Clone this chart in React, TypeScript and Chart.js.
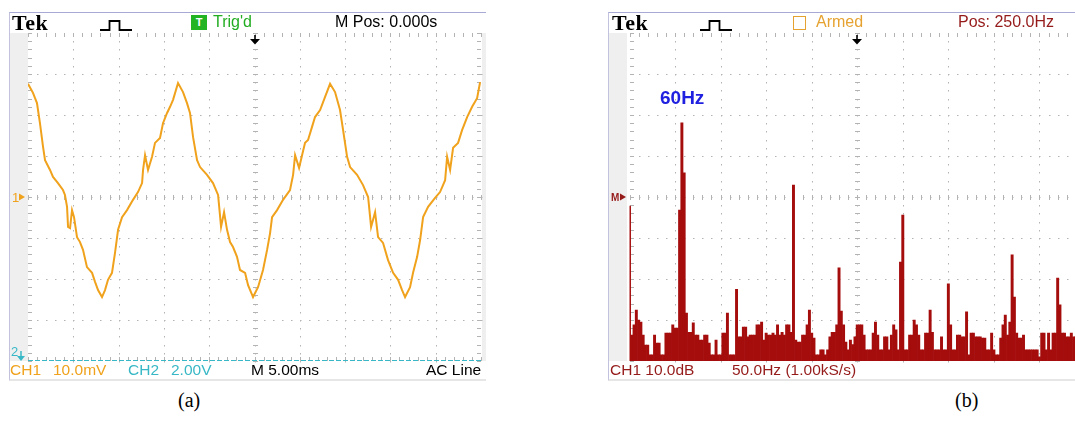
import React, { useEffect, useRef } from "react";
import { Chart, registerables } from "chart.js";

Chart.register(...registerables);

// ---------- Panel (a): CH1 time-domain trace (ms, mV) ----------
const waveTimeMs = [
  0.0, 0.55, 0.99, 1.32, 1.66, 1.88, 2.43, 2.76, 3.31, 3.86, 4.08, 4.31, 4.42, 4.64, 4.86, 5.08, 5.41, 5.74, 6.07,
  6.51, 7.07, 7.4, 7.73, 8.17, 8.5, 8.83, 9.27, 9.6, 9.94, 10.38, 10.93, 11.59, 12.14, 12.59, 12.7, 12.92, 13.25,
  13.69, 14.02, 14.57, 14.9, 15.35, 15.68, 16.01, 16.56, 17.11, 17.55, 17.88, 18.22, 18.66, 18.99, 19.76, 20.42,
  20.98, 21.31, 21.64, 21.97, 22.3, 22.63, 23.07, 23.4, 23.96, 24.29, 24.84, 25.39, 25.94, 26.39, 26.72, 26.94,
  27.49, 28.15, 28.92, 29.26, 29.48, 29.92, 30.25, 30.58, 30.91, 31.35, 31.68, 32.24, 32.79, 33.34, 33.89, 34.44,
  34.78, 35.22, 35.55, 36.32, 36.98, 37.54, 37.87, 38.31, 38.64, 39.19, 39.74, 40.3, 40.85, 41.29, 41.62, 42.17,
  42.5, 42.95, 43.28, 43.61, 44.16, 44.93, 45.48, 46.04, 46.26, 46.59, 46.92, 47.47, 47.91, 48.47, 49.02, 49.57,
  49.9,
];
const waveMv = [
  27.6, 25.4, 22.9, 18.0, 12.2, 9.0, 6.6, 4.9, 3.4, 1.7, 0.5, -2.4, -7.3, -7.6, -3.2, -4.9, -9.8, -11.0, -12.9,
  -17.1, -18.5, -20.7, -22.7, -24.4, -22.7, -20.2, -18.5, -13.7, -8.0, -4.9, -3.2, -0.7, 1.2, 3.4, 6.6, 10.2, 6.6,
  9.8, 13.2, 14.4, 18.0, 20.5, 22.0, 23.7, 27.8, 25.6, 22.9, 20.5, 14.6, 9.0, 7.3, 5.4, 3.4, 0.5, -7.3, -3.7, -8.0,
  -11.0, -12.2, -14.6, -17.8, -18.5, -21.5, -24.4, -22.0, -17.8, -12.9, -8.8, -4.9, -3.2, -0.7, 1.7, 5.4, 10.2,
  7.1, 10.2, 13.2, 13.9, 17.1, 19.5, 21.2, 24.4, 27.6, 25.6, 21.2, 16.3, 9.8, 7.3, 5.4, 2.9, 0.0, -7.3, -3.7, -9.8,
  -11.2, -15.4, -18.5, -20.2, -22.7, -24.4, -22.0, -18.5, -14.6, -10.5, -4.9, -2.4, -0.2, 1.2, 4.1, 9.8, 6.6, 12.0,
  13.2, 16.3, 19.5, 22.0, 24.1, 28.0,
];
// CH2 trace sits on the bottom graticule line
const ch2TimeMs = [0, 50];
const ch2Mv = [-40, -40];

// ---------- Panel (b): FFT magnitude (dB), one value per 2.5 Hz bin ----------
const SPECTRUM_BIN_HZ = 2.5;
const spectrumDb = [
  -2.2, -33.7, -31.2, -27.6, -30, -30.5, -33.7, -36.1, -36.1, -38.5,
  -38.5, -33.7, -35.6, -35.6, -38.5, -38.5, -33.2, -33.2, -33.2, -31.2,
  -32, -32, -3.2, 18.1, 5.9, -28.3, -33, -33, -30.7, -33.7,
  -33.7, -34.9, -34.9, -33.7, -33.7, -35.6, -38.5, -38.5, -34.9, -38.5,
  -38.5, -33.2, -33.2, -28.3, -38.5, -38.5, -38.5, -22.5, -34.1, -34.1,
  -31.7, -31.7, -34.1, -33.7, -33.7, -33.7, -31.2, -31.2, -30.5, -34.9,
  -33.2, -33.7, -33.7, -33.2, -33.7, -31.2, -33.7, -33, -33.7, -31.2,
  -31.2, -33, 2.9, -34.9, -35.4, -35.4, -33.7, -33.7, -31.2, -27.6,
  -33.2, -34.4, -38.5, -38.5, -37.3, -37.3, -38.5, -37.3, -34.1, -33,
  -33, -31.2, -17.3, -27.8, -31.2, -35.4, -37.3, -34.9, -36, -34.1,
  -31.2, -31.2, -31.2, -33.7, -37.3, -37.3, -37.3, -33.2, -30.5, -33.7,
  -37.3, -37.3, -34.1, -34.1, -37.3, -33.7, -31.2, -32.4, -37.3, -15.9,
  -4.4, -37.3, -37.3, -33.7, -33.7, -30, -31.2, -33.7, -37.3, -37.3,
  -33.2, -33.2, -27.6, -33, -37.3, -37.3, -37.3, -34.1, -37.3, -37.3,
  -21.2, -31.2, -37.3, -37.3, -33.7, -33.7, -34.1, -34.1, -28, -38.5,
  -33.2, -33.2, -34.1, -34.1, -34.1, -34.4, -34.4, -37.3, -37.3, -33.2,
  -37.3, -38.5, -38.5, -34.4, -31.2, -28.8, -33.7, -30.5, -14.1, -24.4,
  -33.2, -34.4, -34.4, -33.7, -37.3, -37.3, -37.3, -37.3, -37.3, -37.3,
  -39, -33.2, -33.2, -37.3, -33.2, -37.3, -33.2, -33.2, -19.8, -26.3,
  -33.2, -33.2, -34.1, -34.1, -33.2, -34.1, -34.1, -34, -34, -34,
];

// axis ranges (10 x 8 divisions)
const timeRangeMs = [0, 50];
const voltRangeMv = [-40, 40];
const freqRangeHz = [0, 500];
const dbRange = [-40, 40];

const CH1_ORANGE = "#f0a21c";
const CH2_TEAL = "#38b8c6";
const FFT_RED = "#a50d0d";
const DARK_RED = "#951a1a";

const graticulePlugin = {
  id: "graticule",
  beforeDatasetsDraw(chart: any) {
    const { ctx, chartArea } = chart;
    const xs = chart.scales.x;
    const ys = chart.scales.y;
    const nx = 10, ny = 8, sub = 5;
    const X = (k: number) => Math.round(xs.getPixelForValue(xs.min + ((xs.max - xs.min) * k) / (nx * sub)));
    const Y = (k: number) => Math.round(ys.getPixelForValue(ys.min + ((ys.max - ys.min) * k) / (ny * sub)));
    const l = Math.round(chartArea.left), r = Math.round(chartArea.right);
    const t = Math.round(chartArea.top), b = Math.round(chartArea.bottom);
    ctx.save();
    ctx.fillStyle = "#b3b3b3";
    for (let j = 1; j < ny; j++) {
      const y = Y(j * sub);
      for (let k = 0; k <= nx * sub; k++) ctx.fillRect(X(k), y, 1.5, 1);
    }
    for (let i = 1; i < nx; i++) {
      const x = X(i * sub);
      for (let k = 0; k <= ny * sub; k++) ctx.fillRect(x, Y(k), 1, 1.5);
    }
    const cy = Y((ny * sub) / 2), cx = X((nx * sub) / 2);
    for (let k = 0; k <= nx * sub; k++) ctx.fillRect(X(k), cy - 2, 1, 5);
    for (let k = 0; k <= ny * sub; k++) ctx.fillRect(cx - 2, Y(k), 5, 1);
    for (let k = 0; k <= ny * sub; k++) {
      ctx.fillRect(l, Y(k), 4, 1);
      ctx.fillRect(r - 4, Y(k), 4, 1);
    }
    for (let k = 0; k <= nx * sub; k++) {
      ctx.fillRect(X(k), t, 1, 4);
      ctx.fillRect(X(k), b - 4, 1, 4);
    }
    ctx.restore();
  },
};

function Txt(props: any) {
  const { x, base, size, color = "#000", bold, serif, children, spacing } = props;
  const asc = serif ? 0.8375 : 0.8465;
  return (
    <div
      style={{
        position: "absolute",
        left: x,
        top: base - asc * size,
        fontSize: size,
        lineHeight: `${size}px`,
        color,
        fontWeight: bold ? 700 : 400,
        fontFamily: serif ? '"Liberation Serif", "Times New Roman", serif' : '"Liberation Sans", Arial, sans-serif',
        whiteSpace: "pre",
        letterSpacing: spacing,
      }}
    >
      {children}
    </div>
  );
}

function Pulse({ x, y }: { x: number; y: number }) {
  return (
    <svg style={{ position: "absolute", left: x, top: y }} width={36} height={16}>
      <path d="M2 12 H11.5 V3 H21.5 V12 H34" fill="none" stroke="#000" strokeWidth={1.8} />
    </svg>
  );
}

function DownArrow({ x, y }: { x: number; y: number }) {
  return (
    <svg style={{ position: "absolute", left: x, top: y }} width={12} height={11}>
      <line x1={6} y1={0} x2={6} y2={5} stroke="#000" strokeWidth={1.6} />
      <polygon points="1,4 11,4 6,9.5" fill="#000" />
    </svg>
  );
}

function RightTri({ x, y, color }: { x: number; y: number; color: string }) {
  return (
    <svg style={{ position: "absolute", left: x, top: y }} width={7} height={8}>
      <polygon points="0,0.5 6,4 0,7.5" fill={color} />
    </svg>
  );
}

function Frame({ left, width }: { left: number; width: number }) {
  return (
    <>
      <div
        style={{
          position: "absolute",
          left,
          top: 12,
          width,
          height: 369,
          background: "#fff",
          borderTop: "1px solid #a9a9d6",
          borderLeft: "1px solid #c2c2de",
          borderBottom: "2px solid #e6e6e6",
          boxSizing: "border-box",
        }}
      />
      <div style={{ position: "absolute", left: left + 1, top: 33, width: 18, height: 328, background: "#efefef" }} />
    </>
  );
}

function ScopeChart({ left, width, make }: { left: number; width: number; make: (c: HTMLCanvasElement) => Chart }) {
  const ref = useRef<HTMLCanvasElement | null>(null);
  useEffect(() => {
    if (!ref.current) return;
    const chart = make(ref.current);
    return () => chart.destroy();
  }, []);
  return (
    <canvas
      ref={ref}
      width={width}
      height={369}
      style={{ position: "absolute", left, top: 12, width, height: 369 }}
    />
  );
}

const baseOptions = (padLeft: number) => ({
  animation: false as const,
  responsive: false,
  maintainAspectRatio: false,
  events: [] as any[],
  layout: { padding: { left: padLeft, top: 21, right: 5, bottom: 20 } },
  plugins: { legend: { display: false }, tooltip: { enabled: false } },
});

function makeTimeChart(canvas: HTMLCanvasElement) {
  return new Chart(canvas, {
    type: "line",
    data: {
      datasets: [
        {
          data: ch2TimeMs.map((t, i) => ({ x: t, y: ch2Mv[i] })),
          borderColor: CH2_TEAL,
          borderWidth: 2,
          borderDash: [5, 2],
          pointRadius: 0,
        },
        {
          data: waveTimeMs.map((t, i) => ({ x: t, y: waveMv[i] })),
          borderColor: CH1_ORANGE,
          borderWidth: 2,
          pointRadius: 0,
          tension: 0,
        },
      ],
    },
    options: {
      ...baseOptions(19),
      scales: {
        x: { type: "linear", min: timeRangeMs[0], max: timeRangeMs[1], display: false },
        y: { type: "linear", min: voltRangeMv[0], max: voltRangeMv[1], display: false },
      },
    } as any,
    plugins: [graticulePlugin],
  });
}

function makeFftChart(canvas: HTMLCanvasElement) {
  return new Chart(canvas, {
    type: "bar",
    data: {
      datasets: [
        {
          data: spectrumDb.map((v, i) => ({ x: i * SPECTRUM_BIN_HZ, y: v })),
          backgroundColor: FFT_RED,
          borderWidth: 0,
          base: dbRange[0],
          barPercentage: 1,
          categoryPercentage: 1,
        } as any,
      ],
    },
    options: {
      ...baseOptions(21.5),
      scales: {
        x: { type: "linear", min: freqRangeHz[0], max: freqRangeHz[1], offset: false, display: false },
        y: { type: "linear", min: dbRange[0], max: dbRange[1], display: false },
      },
    } as any,
    plugins: [graticulePlugin],
  });
}

export default function App() {
  const foot = 375.5;
  const fs = 15.5;
  return (
    <div
      style={{
        position: "absolute",
        left: 0,
        top: 0,
        width: 1075,
        height: 438,
        overflow: "hidden",
        background: "#fff",
      }}
    >
      {/* ---------- Panel (a) ---------- */}
      <Frame left={9} width={477} />
      <div style={{ position: "absolute", left: 482, top: 33, width: 4, height: 328, background: "#efefef" }} />
      <ScopeChart left={9} width={477} make={makeTimeChart} />
      <Txt x={12} base={30} size={22} serif bold spacing={0.5}>Tek</Txt>
      <Pulse x={98} y={18} />
      <div
        style={{
          position: "absolute",
          left: 191,
          top: 15,
          width: 16,
          height: 15,
          background: "#22b422",
          color: "#fff",
          fontFamily: '"Liberation Sans", Arial, sans-serif',
          fontWeight: 700,
          fontSize: 11,
          lineHeight: "15px",
          textAlign: "center",
        }}
      >
        T
      </div>
      <Txt x={213} base={27.5} size={16} color="#22ad22">Trig'd</Txt>
      <Txt x={335} base={27.5} size={16}>M Pos: 0.000s</Txt>
      <DownArrow x={249} y={35} />
      <Txt x={12} base={202} size={13} color={CH1_ORANGE}>1</Txt>
      <RightTri x={19} y={193} color={CH1_ORANGE} />
      <Txt x={11} base={356} size={13} color={CH2_TEAL}>2</Txt>
      <svg style={{ position: "absolute", left: 16, top: 351 }} width={10} height={11}>
        <line x1={5} y1={0} x2={5} y2={6} stroke={CH2_TEAL} strokeWidth={1.5} />
        <polygon points="1,5 9,5 5,10" fill={CH2_TEAL} />
      </svg>
      <Txt x={10} base={foot} size={fs} color={CH1_ORANGE}>CH1</Txt>
      <Txt x={53} base={foot} size={fs} color={CH1_ORANGE}>10.0mV</Txt>
      <Txt x={128} base={foot} size={fs} color={CH2_TEAL}>CH2</Txt>
      <Txt x={171} base={foot} size={fs} color={CH2_TEAL}>2.00V</Txt>
      <Txt x={251} base={foot} size={fs}>M 5.00ms</Txt>
      <Txt x={426} base={foot} size={fs}>AC Line</Txt>

      {/* ---------- Panel (b) ---------- */}
      <Frame left={608} width={482} />
      <ScopeChart left={608} width={482} make={makeFftChart} />
      <Txt x={612} base={30} size={22} serif bold spacing={0.5}>Tek</Txt>
      <Pulse x={698} y={18} />
      <div
        style={{
          position: "absolute",
          left: 793,
          top: 16,
          width: 13,
          height: 14,
          border: "1.5px solid #e6a230",
          boxSizing: "border-box",
        }}
      />
      <Txt x={816} base={27.5} size={16} color="#e6a230">Armed</Txt>
      <Txt x={958} base={27.5} size={16} color={DARK_RED}>Pos: 250.0Hz</Txt>
      <DownArrow x={851} y={35} />
      <Txt x={660} base={104} size={19} bold color="#2020e0">60Hz</Txt>
      <Txt x={611} base={201} size={10} bold color={DARK_RED}>M</Txt>
      <RightTri x={620} y={193} color={DARK_RED} />
      <Txt x={610} base={foot} size={fs} color={DARK_RED}>CH1 10.0dB</Txt>
      <Txt x={732} base={foot} size={fs} color={DARK_RED}>50.0Hz (1.00kS/s)</Txt>

      {/* ---------- captions ---------- */}
      <Txt x={178} base={407} size={20} serif>(a)</Txt>
      <Txt x={955} base={407} size={20} serif>(b)</Txt>
    </div>
  );
}
